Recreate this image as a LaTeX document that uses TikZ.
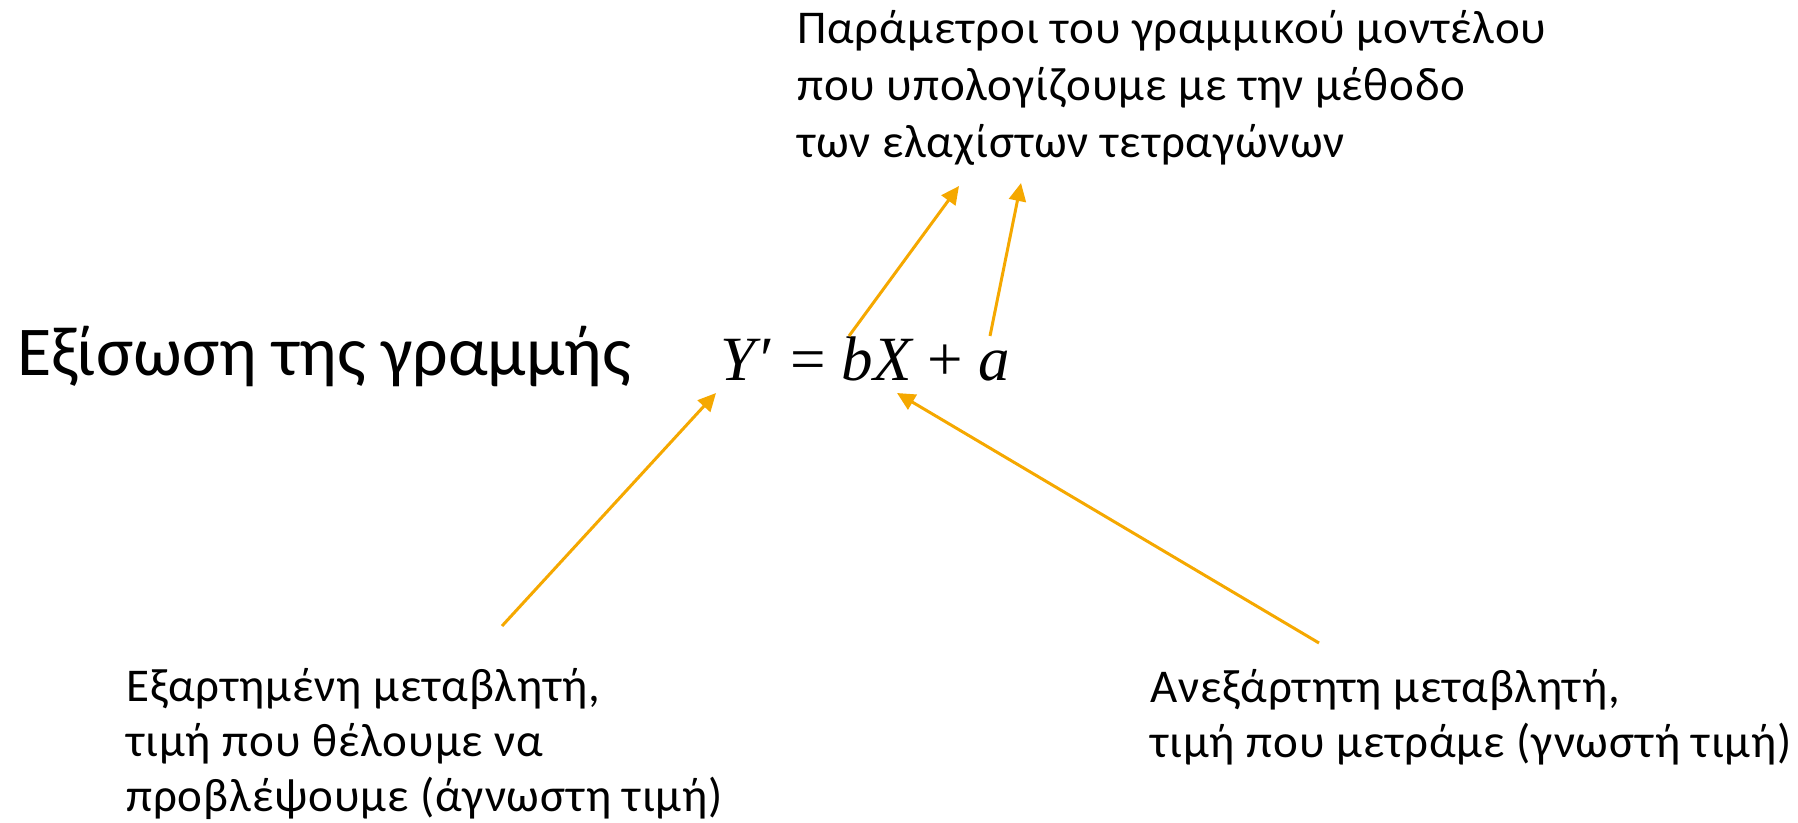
\documentclass[tikz,border=0pt]{standalone}
\usepackage{fontspec}
\setmainfont{Carlito}
\newfontfamily\lblfont[LetterSpace=2]{Carlito}
\newfontfamily\eqfont{Liberation Serif}
\usetikzlibrary{arrows.meta}
\definecolor{arrorange}{RGB}{245,168,0}
\tikzset{
  lbl/.style     = {inner sep=0pt, align=left, font=\lblfont\fontsize{47}{55}\selectfont},
  pointer/.style = {-{Triangle[length=18pt,width=17pt]}, line width=3pt, arrorange}
}

\begin{document}
\begin{tikzpicture}[x=1pt, y=-1pt]
  \useasboundingbox (0,0) rectangle (1798,822);
  % Title and equation
  \node[inner sep=0pt, anchor=base west, font=\fontsize{70}{80}\selectfont] (title) at (17,375) {Εξίσωση της γραμμής};
  \node[inner sep=0pt, anchor=base west, font=\eqfont\fontsize{63}{70}\selectfont]
    (eqn) at (720,380) {\itshape Y\/\upshape′ = \itshape bX \upshape+ \itshape a};
  % Labels (anchored at the baseline of their last line)
  \node[lbl, font=\lblfont\fontsize{47}{57}\selectfont, anchor=base west] (params) at (797,157)
    {Παράμετροι του γραμμικού μοντέλου\\που υπολογίζουμε με την μέθοδο\\των ελαχίστων τετραγώνων};
  \node[lbl, anchor=base west] (depvar) at (126,811)
    {Εξαρτημένη μεταβλητή,\\τιμή που θέλουμε να\\προβλέψουμε (άγνωστη τιμή)};
  \node[lbl, anchor=base west] (indvar) at (1150,757)
    {Ανεξάρτητη μεταβλητή,\\τιμή που μετράμε (γνωστή τιμή)};
  % Arrow ends
  \coordinate (bTop)   at (849,336);
  \coordinate (aTop)   at (990,336);
  \coordinate (yBot)   at (716,393);
  \coordinate (xBot)   at (897,393);
  \coordinate (parL)   at (959,186);
  \coordinate (parR)   at (1021,183);
  \coordinate (depEnd) at (502,626);
  \coordinate (indEnd) at (1319,643);
  % Arrows
  \draw[pointer] (bTop) -- (parL);
  \draw[pointer] (aTop) -- (parR);
  \draw[pointer] (depEnd) -- (yBot);
  \draw[pointer] (indEnd) -- (xBot);
\end{tikzpicture}
\end{document}
